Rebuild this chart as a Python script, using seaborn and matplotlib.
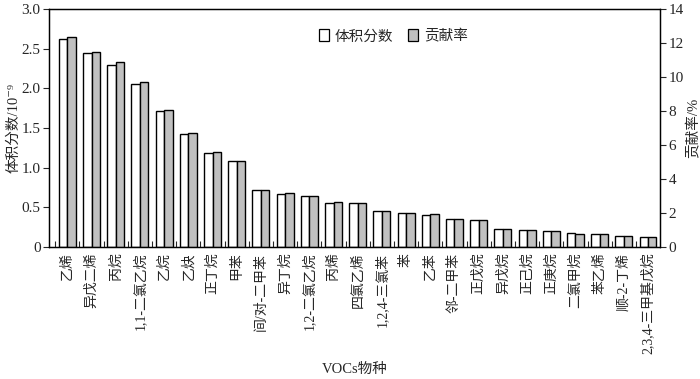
import pandas as pd
import matplotlib
matplotlib.use("Agg")
import matplotlib.pyplot as plt
from matplotlib.patches import Patch
import seaborn as sns

# data
species = ["乙烯", "异戊二烯", "丙烷", "1,1-二氯乙烷", "乙烷", "乙炔", "正丁烷", "甲苯",
           "间/对-二甲苯", "异丁烷", "1,2-二氯乙烷", "丙烯", "四氯乙烯", "1,2,4-三氯苯", "苯",
           "乙苯", "邻-二甲苯", "正戊烷", "异戊烷", "正己烷", "正庚烷", "二氯甲烷", "苯乙烯",
           "顺-2-丁烯", "2,3,4-三甲基戊烷"]
volume = [2.62, 2.45, 2.30, 2.06, 1.71, 1.42, 1.18, 1.08, 0.715, 0.67, 0.64, 0.56, 0.55,
          0.46, 0.425, 0.41, 0.357, 0.34, 0.227, 0.214, 0.198, 0.173, 0.16, 0.143, 0.13]
contrib = [12.37, 11.49, 10.86, 9.71, 8.08, 6.69, 5.57, 5.06, 3.37, 3.16, 3.00, 2.65, 2.57,
           2.14, 1.98, 1.92, 1.67, 1.59, 1.06, 1.00, 0.92, 0.80, 0.75, 0.66, 0.61]
series = ["体积分数", "贡献率"]

df = pd.DataFrame({"species": species * 2,
                   "series": [series[0]] * len(species) + [series[1]] * len(species),
                   "value": volume + contrib})

sns.set_style("ticks")
plt.rcParams["font.family"] = ["Liberation Serif", "Noto Sans CJK SC", "DejaVu Serif"]
plt.rcParams["axes.unicode_minus"] = False

fig, ax = plt.subplots(figsize=(7, 3.79), dpi=100)
fig.subplots_adjust(left=0.07, right=0.943, top=0.976, bottom=0.348)
ax2 = ax.twinx()

palette = {"体积分数": "white", "贡献率": "#c0c0c0"}
sns.barplot(data=df[df.series == series[0]], x="species", y="value", hue="series",
            hue_order=series, order=species, palette=palette, width=0.7, dodge=True,
            edgecolor="black", linewidth=1.0, ax=ax, legend=False)
sns.barplot(data=df[df.series == series[1]], x="species", y="value", hue="series",
            hue_order=series, order=species, palette=palette, width=0.7, dodge=True,
            edgecolor="black", linewidth=1.0, ax=ax2, legend=False)

n = len(species)
ax.set_xlim(-0.76, n - 0.5)
ax.set_ylim(0, 3.0)
ax2.set_ylim(0, 14)
ax.set_yticks([0, 0.5, 1.0, 1.5, 2.0, 2.5, 3.0])
ax.set_yticklabels(["0", "0.5", "1.0", "1.5", "2.0", "2.5", "3.0"])
ax2.set_yticks(range(0, 15, 2))

ax.set_xticks(range(n))
ax.set_xticklabels(species, rotation=90, fontsize=10)
ax.tick_params(axis="x", length=0, pad=4)
ax.set_xticks([i - 0.5 for i in range(n)], minor=True)
ax.tick_params(axis="x", which="minor", direction="in", length=4, width=0.8)
ax.tick_params(axis="y", direction="out", length=4, width=0.8, labelsize=11, pad=2)
ax2.tick_params(axis="y", direction="out", length=4, width=0.8, labelsize=11, pad=2)

for a in (ax, ax2):
    for s in a.spines.values():
        s.set_linewidth(0.9)
        s.set_color("black")

ax.set_xlabel("VOCs物种", fontsize=10.5, labelpad=6)
ax.set_ylabel("体积分数/10⁻⁹", fontsize=10.5, labelpad=1)
ax2.set_ylabel("贡献率/%", fontsize=10.5, labelpad=2)
ax2.set_xlabel("")

handles = [Patch(facecolor=palette[s], edgecolor="black", linewidth=0.9, label=s) for s in series]
ax2.legend(handles=handles, loc="upper left", bbox_to_anchor=(0.42, 0.97), ncol=2,
           frameon=False, fontsize=10.5, handlelength=0.7, handleheight=0.9,
           handletextpad=0.4, columnspacing=1.0)

fig.savefig("out.png", dpi=100)
